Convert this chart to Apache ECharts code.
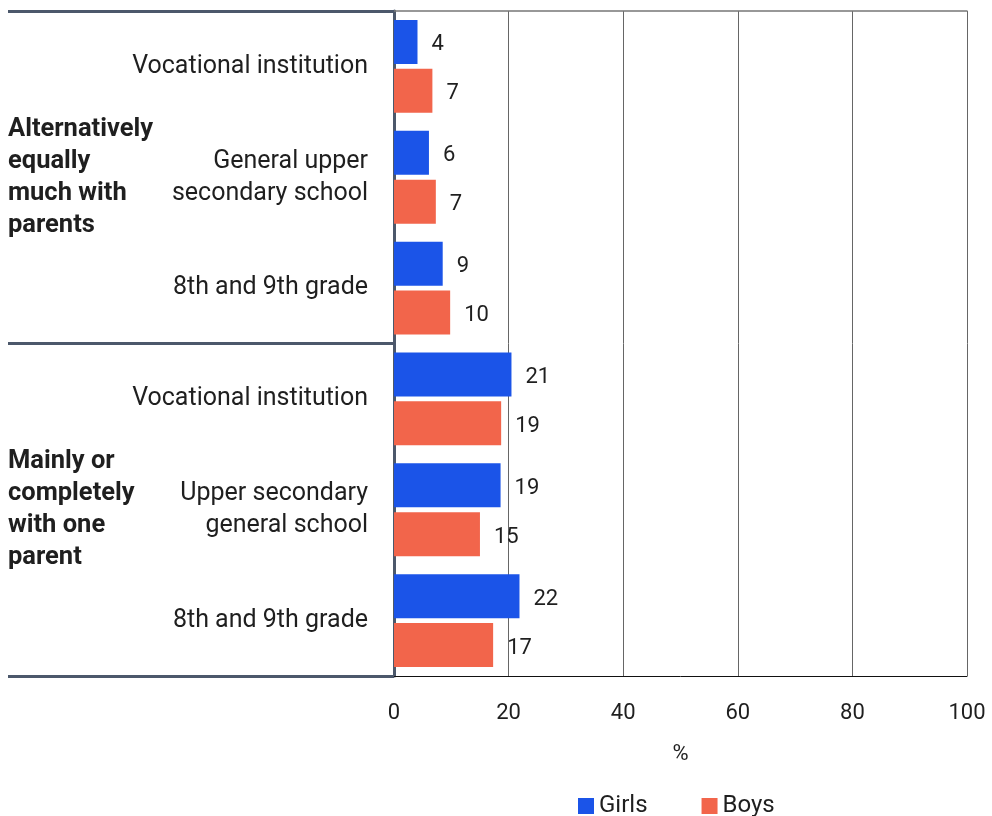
<!DOCTYPE html>
<html lang="en">
<head>
    <meta charset="UTF-8">
    <title>Living arrangements</title>
    <style>
        *{
            margin: 0;
            padding: 0;
        }
        #chart{
            width: 992px;
            height: 816px;
            background: #fff;
        }
    </style>
    <script src="https://cdn.jsdelivr.net/npm/echarts@6/dist/echarts.min.js"></script>
</head>
<body>
    <div id="chart"></div>
    <script>
        // rows top to bottom
        var rowLabels = [
            'Vocational institution',
            'General upper\nsecondary school',
            '8th and 9th grade',
            'Vocational institution',
            'Upper secondary\ngeneral school',
            '8th and 9th grade'
        ]
        var groupLabels = [
            'Alternatively\nequally\nmuch with\nparents',
            'Mainly or\ncompletely\nwith one\nparent'
        ]
        var girls = [4.1, 6.1, 8.5, 20.5, 18.6, 21.9]
        var boys = [6.7, 7.3, 9.8, 18.7, 15.0, 17.3]
        var xTicks = [0, 20, 40, 60, 80, 100]

        var font = 'Roboto'
        var slate = '#4c586b'
        var textColor = '#1f1f1f'

        var myChart = echarts.init(document.getElementById('chart'))

        var barLabel = {
            show: true,
            position: 'right',
            distance: 14,
            offset: [0, 3],
            fontSize: 22,
            color: textColor,
            formatter: function (p) { return Math.round(p.value) }
        }

        var option = {
            animation: false,
            textStyle: {fontFamily: font},
            grid: {left: 394, right: 25, top: 11, bottom: 140},
            legend: {
                data: ['Girls', 'Boys'],
                left: 573,
                top: 789,
                icon: 'rect',
                itemWidth: 16,
                itemHeight: 16,
                itemGap: 54,
                itemStyle: {borderWidth: 0},
                textStyle: {fontSize: 24, color: textColor, fontFamily: font}
            },
            xAxis: [
                {
                    type: 'value',
                    min: xTicks[0],
                    max: xTicks[xTicks.length - 1],
                    interval: 20,
                    name: '%',
                    nameLocation: 'middle',
                    nameGap: 67,
                    nameTextStyle: {fontSize: 22, color: textColor},
                    axisLine: {show: true, lineStyle: {color: '#111', width: 1}},
                    axisTick: {show: false},
                    axisLabel: {fontSize: 22, color: textColor, margin: 26},
                    splitLine: {show: true, lineStyle: {color: '#666', width: 1}}
                },
                {
                    type: 'value',
                    position: 'top',
                    min: xTicks[0],
                    max: xTicks[xTicks.length - 1],
                    interval: 20,
                    axisLine: {show: true, lineStyle: {color: '#777', width: 1.5}},
                    axisTick: {show: false},
                    axisLabel: {show: false},
                    splitLine: {show: false}
                }
            ],
            yAxis: [
                {
                    type: 'category',
                    inverse: true,
                    data: rowLabels.map(function (l, i) { return 'r' + i }),
                    axisLine: {show: true, lineStyle: {color: slate, width: 3}},
                    axisTick: {
                        show: true,
                        length: 386,
                        interval: function (index) { return index % 3 === 0 },
                        lineStyle: {color: slate, width: 3}
                    },
                    axisLabel: {
                        fontSize: 25,
                        lineHeight: 32,
                        color: textColor,
                        margin: 26,
                        padding: [6, 0, 0, 0],
                        interval: 0,
                        formatter: function (v, i) { return rowLabels[i] }
                    }
                },
                {
                    type: 'category',
                    inverse: true,
                    position: 'left',
                    data: groupLabels,
                    axisLine: {show: false},
                    axisTick: {show: false},
                    axisLabel: {
                        fontSize: 25.5,
                        lineHeight: 32,
                        fontWeight: 'bold',
                        color: textColor,
                        align: 'left',
                        margin: 386,
                        padding: [6, 0, 0, 0],
                        interval: 0
                    }
                }
            ],
            series: [
                {
                    name: 'Girls',
                    type: 'bar',
                    data: girls,
                    barWidth: 44,
                    barGap: '11%',
                    itemStyle: {color: '#1b54e8'},
                    label: barLabel
                },
                {
                    name: 'Boys',
                    type: 'bar',
                    data: boys,
                    barWidth: 44,
                    barGap: '11%',
                    itemStyle: {color: '#f2654b'},
                    label: barLabel
                }
            ]
        }
        myChart.setOption(option)
    </script>
</body>
</html>
